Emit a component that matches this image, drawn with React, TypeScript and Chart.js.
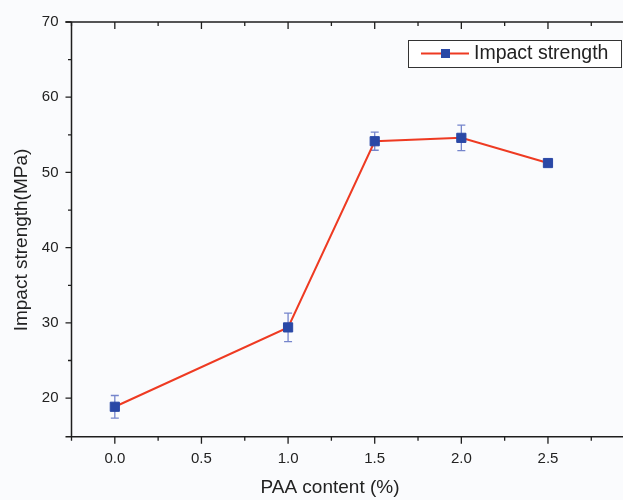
import React, { useEffect, useRef } from "react";
import { Chart, registerables } from "chart.js";

Chart.register(...registerables);

const xValues = [0.0, 1.0, 1.5, 2.0, 2.5];
const impactStrength = [18.85, 29.4, 54.15, 54.6, 51.25];
const errorValues = [1.5, 1.9, 1.2, 1.7, 0.3];
const yTickLabels = [20, 30, 40, 50, 60, 70];
const yMinorTicks = [25, 35, 45, 55, 65];
const xTickLabels = [0.0, 0.5, 1.0, 1.5, 2.0, 2.5];
const xMinorTicks = [-0.25, 0.25, 0.75, 1.25, 1.75, 2.25, 2.75];
const seriesName = "Impact strength";
const xTitle = "PAA content (%)";
const yTitle = "Impact strength(MPa)";

const LINE = "#ee3a22";
const MARK = "#2a48a6";
const ERR = "#7585cc";
const AXIS = "#1e1e1e";
const TEXT = "#222222";
const FONT = "'Liberation Sans', Arial, sans-serif";

const CW = 660;
const CH = 500;

const decorPlugin = {
  id: "decor",
  beforeDatasetsDraw(chart: any) {
    const ctx = chart.ctx;
    const xs = chart.scales.x;
    const ys = chart.scales.y;
    ctx.save();
    ctx.strokeStyle = ERR;
    ctx.lineWidth = 1.3;
    xValues.forEach((xv, i) => {
      const e = errorValues[i];
      if (e < 0.6) return;
      const px = xs.getPixelForValue(xv);
      const top = ys.getPixelForValue(impactStrength[i] + e);
      const bot = ys.getPixelForValue(impactStrength[i] - e);
      ctx.beginPath();
      ctx.moveTo(px, top);
      ctx.lineTo(px, bot);
      ctx.moveTo(px - 4, top);
      ctx.lineTo(px + 4, top);
      ctx.moveTo(px - 4, bot);
      ctx.lineTo(px + 4, bot);
      ctx.stroke();
    });
    ctx.restore();
  },
  afterDraw(chart: any) {
    const ctx = chart.ctx;
    const xs = chart.scales.x;
    const ys = chart.scales.y;
    const a = chart.chartArea;
    ctx.save();
    ctx.strokeStyle = AXIS;
    ctx.lineWidth = 1.5;
    // frame (left, bottom, top, right)
    ctx.beginPath();
    ctx.moveTo(a.left, a.top);
    ctx.lineTo(a.left, a.bottom);
    ctx.moveTo(a.left - 6, a.bottom);
    ctx.lineTo(a.right, a.bottom);
    ctx.moveTo(a.left - 6, a.top);
    ctx.lineTo(a.right, a.top);
    ctx.moveTo(a.right, a.top);
    ctx.lineTo(a.right, a.bottom);
    ctx.stroke();

    ctx.lineWidth = 1.3;
    ctx.beginPath();
    // y ticks
    yTickLabels.forEach((v) => {
      const py = ys.getPixelForValue(v);
      ctx.moveTo(a.left - 6, py);
      ctx.lineTo(a.left, py);
    });
    yMinorTicks.forEach((v) => {
      const py = ys.getPixelForValue(v);
      ctx.moveTo(a.left - 3.5, py);
      ctx.lineTo(a.left, py);
    });
    // x ticks bottom (outward) and top (inward)
    xTickLabels.forEach((v) => {
      const px = xs.getPixelForValue(v);
      ctx.moveTo(px, a.bottom);
      ctx.lineTo(px, a.bottom + 7);
      ctx.moveTo(px, a.top);
      ctx.lineTo(px, a.top + 7);
    });
    xMinorTicks.forEach((v) => {
      const px = xs.getPixelForValue(v);
      ctx.moveTo(px, a.bottom);
      ctx.lineTo(px, a.bottom + 4);
      ctx.moveTo(px, a.top);
      ctx.lineTo(px, a.top + 4);
    });
    ctx.stroke();

    // tick labels
    ctx.fillStyle = TEXT;
    ctx.font = `15px ${FONT}`;
    ctx.textAlign = "right";
    ctx.textBaseline = "middle";
    yTickLabels.forEach((v) => {
      ctx.fillText(String(v), a.left - 13, ys.getPixelForValue(v));
    });
    ctx.textAlign = "center";
    ctx.textBaseline = "middle";
    xTickLabels.forEach((v) => {
      ctx.fillText(v.toFixed(1), xs.getPixelForValue(v), a.bottom + 22);
    });

    // axis titles
    ctx.font = `19px ${FONT}`;
    ctx.textAlign = "center";
    ctx.textBaseline = "middle";
    ctx.fillText(xTitle, 330, 488);
    ctx.save();
    ctx.translate(22, 240);
    ctx.rotate(-Math.PI / 2);
    ctx.fillText(yTitle, 0, 0);
    ctx.restore();

    // legend
    const lx = 408, ly = 40, lw = 213, lh = 27;
    ctx.fillStyle = "#ffffff";
    ctx.fillRect(lx, ly, lw, lh);
    ctx.strokeStyle = "#333333";
    ctx.lineWidth = 1;
    ctx.strokeRect(lx + 0.5, ly + 0.5, lw, lh);
    const cy = ly + lh / 2;
    ctx.strokeStyle = LINE;
    ctx.lineWidth = 2;
    ctx.beginPath();
    ctx.moveTo(421, cy);
    ctx.lineTo(469, cy);
    ctx.stroke();
    ctx.fillStyle = MARK;
    ctx.fillRect(441, cy - 4.5, 9, 9);
    ctx.fillStyle = TEXT;
    ctx.font = `19.5px ${FONT}`;
    ctx.textAlign = "left";
    ctx.textBaseline = "middle";
    ctx.fillText(seriesName, 474, cy + 0.5);
    ctx.restore();
  },
};

export default function App() {
  const ref = useRef<HTMLCanvasElement | null>(null);
  useEffect(() => {
    if (!ref.current) return;
    const chart = new Chart(ref.current, {
      type: "scatter",
      data: {
        datasets: [
          {
            label: seriesName,
            data: xValues.map((x, i) => ({ x, y: impactStrength[i] })),
            showLine: true,
            borderColor: LINE,
            borderWidth: 2,
            backgroundColor: MARK,
            pointBackgroundColor: MARK,
            pointBorderColor: MARK,
            pointBorderWidth: 1,
            pointStyle: "rect",
            pointRadius: 6.5,
            clip: false as any,
          },
        ],
      },
      options: {
        animation: false,
        responsive: false,
        devicePixelRatio: 1,
        layout: { padding: { left: 71.5, top: 22, right: CW - 634.6, bottom: CH - 436.7 } },
        plugins: { legend: { display: false }, tooltip: { enabled: false } },
        scales: {
          x: { type: "linear", min: -0.25, max: 3.0, display: false },
          y: { type: "linear", min: 14.87, max: 70, display: false },
        },
      },
      plugins: [decorPlugin],
    });
    return () => chart.destroy();
  }, []);
  return (
    <div
      style={{
        position: "absolute",
        left: 0,
        top: 0,
        width: 623,
        height: 500,
        overflow: "hidden",
        background: "#fafbfd",
      }}
    >
      <canvas ref={ref} width={CW} height={CH} style={{ width: CW, height: CH, display: "block" }} />
    </div>
  );
}
